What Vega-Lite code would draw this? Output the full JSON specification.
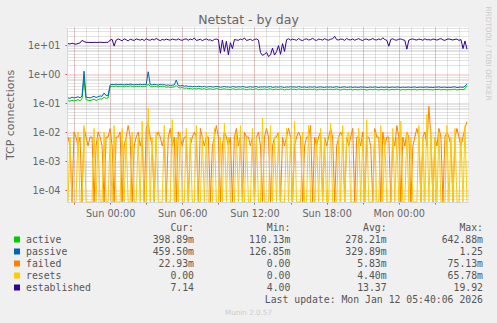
{
"$schema": "https://vega.github.io/schema/vega-lite/v6.json",
"width": 401,
"height": 175,
"autosize": {"type": "none"},
"padding": {"left": 67, "top": 27, "right": 29, "bottom": 121},
"background": "#F0F0F0",
"title": {"text": "Netstat - by day", "font": "DejaVu Sans", "fontSize": 12.5, "fontWeight": "normal", "color": "#666666", "anchor": "middle", "frame": "group", "baseline": "alphabetic", "offset": -30, "dx": -19},
"datasets": {
"ts": [
{"t":"2026-01-10T20:30Z","a":0.12,"p":0.15,"f":0.0067,"r":0,"e":11.2},
{"t":"2026-01-10T20:40Z","a":0.115,"p":0.145,"f":0.0033,"r":0.0067,"e":10.8},
{"t":"2026-01-10T20:50Z","a":0.125,"p":0.16,"f":0,"r":0,"e":11.5},
{"t":"2026-01-10T21:00Z","a":0.118,"p":0.15,"f":0.01,"r":0,"e":11.0},
{"t":"2026-01-10T21:10Z","a":0.122,"p":0.155,"f":0.0067,"r":0,"e":10.6},
{"t":"2026-01-10T21:20Z","a":0.13,"p":0.165,"f":0.0033,"r":0.01,"e":11.3},
{"t":"2026-01-10T21:30Z","a":0.12,"p":0.15,"f":0.0067,"r":0,"e":11.8},
{"t":"2026-01-10T21:40Z","a":0.14,"p":0.175,"f":0,"r":0,"e":14.5},
{"t":"2026-01-10T21:50Z","a":0.643,"p":1.25,"f":0.0133,"r":0.0167,"e":13.2},
{"t":"2026-01-10T22:00Z","a":0.13,"p":0.16,"f":0.0067,"r":0,"e":12.4},
{"t":"2026-01-10T22:10Z","a":0.125,"p":0.155,"f":0.0033,"r":0,"e":12.3},
{"t":"2026-01-10T22:20Z","a":0.12,"p":0.15,"f":0.0067,"r":0,"e":12.3},
{"t":"2026-01-10T22:30Z","a":0.128,"p":0.16,"f":0.0067,"r":0,"e":12.2},
{"t":"2026-01-10T22:40Z","a":0.135,"p":0.17,"f":0,"r":0.0133,"e":12.4},
{"t":"2026-01-10T22:50Z","a":0.122,"p":0.155,"f":0.0033,"r":0,"e":12.3},
{"t":"2026-01-10T23:00Z","a":0.13,"p":0.165,"f":0.01,"r":0.0067,"e":12.3},
{"t":"2026-01-10T23:10Z","a":0.14,"p":0.175,"f":0.0067,"r":0,"e":12.5},
{"t":"2026-01-10T23:20Z","a":0.135,"p":0.17,"f":0.0033,"r":0,"e":12.3},
{"t":"2026-01-10T23:30Z","a":0.16,"p":0.22,"f":0,"r":0.01,"e":12.2},
{"t":"2026-01-10T23:40Z","a":0.145,"p":0.18,"f":0.0067,"r":0,"e":12.4},
{"t":"2026-01-10T23:50Z","a":0.15,"p":0.185,"f":0.0067,"r":0,"e":12.3},
{"t":"2026-01-11T00:00Z","a":0.36,"p":0.42,"f":0.0133,"r":0.0067,"e":14.8},
{"t":"2026-01-11T00:10Z","a":0.38,"p":0.44,"f":0.0033,"r":0,"e":15.6},
{"t":"2026-01-11T00:20Z","a":0.37,"p":0.43,"f":0,"r":0.0167,"e":9.2},
{"t":"2026-01-11T00:30Z","a":0.39,"p":0.45,"f":0.0067,"r":0,"e":14.8},
{"t":"2026-01-11T00:40Z","a":0.365,"p":0.425,"f":0.0067,"r":0,"e":16.2},
{"t":"2026-01-11T00:50Z","a":0.38,"p":0.44,"f":0.01,"r":0,"e":15.1},
{"t":"2026-01-11T01:00Z","a":0.375,"p":0.435,"f":0,"r":0.0133,"e":14.0},
{"t":"2026-01-11T01:10Z","a":0.36,"p":0.42,"f":0.0033,"r":0,"e":16.4},
{"t":"2026-01-11T01:20Z","a":0.385,"p":0.445,"f":0.0067,"r":0.0067,"e":15.2},
{"t":"2026-01-11T01:30Z","a":0.37,"p":0.43,"f":0.0167,"r":0,"e":13.8},
{"t":"2026-01-11T01:40Z","a":0.39,"p":0.45,"f":0.0067,"r":0,"e":15.9},
{"t":"2026-01-11T01:50Z","a":0.375,"p":0.435,"f":0,"r":0.01,"e":15.0},
{"t":"2026-01-11T02:00Z","a":0.36,"p":0.42,"f":0.0033,"r":0,"e":14.4},
{"t":"2026-01-11T02:10Z","a":0.38,"p":0.44,"f":0.0067,"r":0,"e":16.2},
{"t":"2026-01-11T02:20Z","a":0.37,"p":0.43,"f":0.01,"r":0.0067,"e":15.5},
{"t":"2026-01-11T02:30Z","a":0.385,"p":0.445,"f":0.0033,"r":0,"e":14.7},
{"t":"2026-01-11T02:40Z","a":0.365,"p":0.425,"f":0.0067,"r":0.0233,"e":15.8},
{"t":"2026-01-11T02:50Z","a":0.38,"p":0.44,"f":0,"r":0,"e":14.3},
{"t":"2026-01-11T03:00Z","a":0.37,"p":0.43,"f":0.0133,"r":0,"e":16.5},
{"t":"2026-01-11T03:10Z","a":0.45,"p":1.2,"f":0.02,"r":0.0658,"e":15.1},
{"t":"2026-01-11T03:20Z","a":0.375,"p":0.435,"f":0.0067,"r":0,"e":14.6},
{"t":"2026-01-11T03:30Z","a":0.36,"p":0.42,"f":0.0033,"r":0.0067,"e":15.9},
{"t":"2026-01-11T03:40Z","a":0.38,"p":0.44,"f":0,"r":0,"e":14.9},
{"t":"2026-01-11T03:50Z","a":0.37,"p":0.43,"f":0.0067,"r":0.01,"e":16.8},
{"t":"2026-01-11T04:00Z","a":0.355,"p":0.415,"f":0.01,"r":0,"e":15.3},
{"t":"2026-01-11T04:10Z","a":0.38,"p":0.44,"f":0.0067,"r":0,"e":14.2},
{"t":"2026-01-11T04:20Z","a":0.365,"p":0.425,"f":0.0033,"r":0,"e":15.6},
{"t":"2026-01-11T04:30Z","a":0.37,"p":0.43,"f":0.0067,"r":0.0167,"e":14.8},
{"t":"2026-01-11T04:40Z","a":0.35,"p":0.41,"f":0,"r":0,"e":16.0},
{"t":"2026-01-11T04:50Z","a":0.36,"p":0.42,"f":0.0067,"r":0,"e":15.2},
{"t":"2026-01-11T05:00Z","a":0.345,"p":0.405,"f":0.0133,"r":0,"e":14.7},
{"t":"2026-01-11T05:10Z","a":0.35,"p":0.41,"f":0.0033,"r":0.0267,"e":16.1},
{"t":"2026-01-11T05:20Z","a":0.36,"p":0.42,"f":0.0067,"r":0,"e":15.4},
{"t":"2026-01-11T05:30Z","a":0.4,"p":0.62,"f":0,"r":0.0067,"e":14.9},
{"t":"2026-01-11T05:40Z","a":0.34,"p":0.4,"f":0.01,"r":0,"e":16.3},
{"t":"2026-01-11T05:50Z","a":0.33,"p":0.39,"f":0.0067,"r":0.01,"e":15.0},
{"t":"2026-01-11T06:00Z","a":0.345,"p":0.405,"f":0.0033,"r":0,"e":14.5},
{"t":"2026-01-11T06:10Z","a":0.32,"p":0.38,"f":0.0067,"r":0,"e":15.8},
{"t":"2026-01-11T06:20Z","a":0.33,"p":0.39,"f":0.0067,"r":0.0133,"e":16.2},
{"t":"2026-01-11T06:30Z","a":0.31,"p":0.37,"f":0,"r":0,"e":14.6},
{"t":"2026-01-11T06:40Z","a":0.32,"p":0.38,"f":0.0033,"r":0.0067,"e":16.0},
{"t":"2026-01-11T06:50Z","a":0.3,"p":0.36,"f":0.0067,"r":0,"e":15.2},
{"t":"2026-01-11T07:00Z","a":0.315,"p":0.375,"f":0.01,"r":0,"e":17.5},
{"t":"2026-01-11T07:10Z","a":0.305,"p":0.365,"f":0.0067,"r":0.0167,"e":14.4},
{"t":"2026-01-11T07:20Z","a":0.32,"p":0.38,"f":0,"r":0,"e":15.0},
{"t":"2026-01-11T07:30Z","a":0.31,"p":0.37,"f":0.0133,"r":0,"e":15.8},
{"t":"2026-01-11T07:40Z","a":0.3,"p":0.36,"f":0.0067,"r":0.0067,"e":14.2},
{"t":"2026-01-11T07:50Z","a":0.315,"p":0.375,"f":0.0033,"r":0,"e":15.5},
{"t":"2026-01-11T08:00Z","a":0.29,"p":0.35,"f":0.0067,"r":0.01,"e":16.2},
{"t":"2026-01-11T08:10Z","a":0.305,"p":0.365,"f":0.0067,"r":0,"e":14.8},
{"t":"2026-01-11T08:20Z","a":0.31,"p":0.37,"f":0,"r":0,"e":15.1},
{"t":"2026-01-11T08:30Z","a":0.295,"p":0.355,"f":0.0033,"r":0,"e":14.0},
{"t":"2026-01-11T08:40Z","a":0.3,"p":0.36,"f":0.0067,"r":0.0133,"e":15.6},
{"t":"2026-01-11T08:50Z","a":0.315,"p":0.375,"f":0.0167,"r":0,"e":16.0},
{"t":"2026-01-11T09:00Z","a":0.305,"p":0.365,"f":0.0067,"r":0,"e":15.2},
{"t":"2026-01-11T09:10Z","a":0.29,"p":0.35,"f":0,"r":0.0067,"e":5.2},
{"t":"2026-01-11T09:20Z","a":0.3,"p":0.36,"f":0.0033,"r":0,"e":14.8},
{"t":"2026-01-11T09:30Z","a":0.31,"p":0.37,"f":0.01,"r":0.02,"e":6.0},
{"t":"2026-01-11T09:40Z","a":0.295,"p":0.355,"f":0.0067,"r":0,"e":13.5},
{"t":"2026-01-11T09:50Z","a":0.3,"p":0.36,"f":0.0033,"r":0.0067,"e":4.6},
{"t":"2026-01-11T10:00Z","a":0.285,"p":0.345,"f":0.0067,"r":0,"e":12.0},
{"t":"2026-01-11T10:10Z","a":0.31,"p":0.37,"f":0,"r":0,"e":7.5},
{"t":"2026-01-11T10:20Z","a":0.3,"p":0.36,"f":0.0067,"r":0,"e":15.5},
{"t":"2026-01-11T10:30Z","a":0.29,"p":0.35,"f":0.0133,"r":0.01,"e":14.9},
{"t":"2026-01-11T10:40Z","a":0.305,"p":0.365,"f":0.0033,"r":0,"e":14.6},
{"t":"2026-01-11T10:50Z","a":0.295,"p":0.355,"f":0.0067,"r":0.0167,"e":16.0},
{"t":"2026-01-11T11:00Z","a":0.31,"p":0.37,"f":0,"r":0,"e":15.2},
{"t":"2026-01-11T11:10Z","a":0.3,"p":0.36,"f":0.01,"r":0,"e":17.5},
{"t":"2026-01-11T11:20Z","a":0.285,"p":0.345,"f":0.0067,"r":0.0067,"e":14.4},
{"t":"2026-01-11T11:30Z","a":0.295,"p":0.355,"f":0.0067,"r":0,"e":15.0},
{"t":"2026-01-11T11:40Z","a":0.305,"p":0.365,"f":0.0033,"r":0,"e":15.8},
{"t":"2026-01-11T11:50Z","a":0.29,"p":0.35,"f":0.0067,"r":0.0133,"e":14.2},
{"t":"2026-01-11T12:00Z","a":0.3,"p":0.36,"f":0,"r":0,"e":15.5},
{"t":"2026-01-11T12:10Z","a":0.31,"p":0.37,"f":0.0067,"r":0.0067,"e":16.2},
{"t":"2026-01-11T12:20Z","a":0.285,"p":0.345,"f":0.01,"r":0,"e":14.8},
{"t":"2026-01-11T12:30Z","a":0.3,"p":0.36,"f":0.0033,"r":0,"e":5.5},
{"t":"2026-01-11T12:40Z","a":0.295,"p":0.355,"f":0,"r":0.03,"e":4.4},
{"t":"2026-01-11T12:50Z","a":0.305,"p":0.365,"f":0.0067,"r":0,"e":4.8},
{"t":"2026-01-11T13:00Z","a":0.29,"p":0.35,"f":0.0133,"r":0,"e":5.6},
{"t":"2026-01-11T13:10Z","a":0.3,"p":0.36,"f":0.0067,"r":0,"e":4.0},
{"t":"2026-01-11T13:20Z","a":0.31,"p":0.37,"f":0,"r":0.0167,"e":4.6},
{"t":"2026-01-11T13:30Z","a":0.285,"p":0.345,"f":0.0033,"r":0,"e":7.8},
{"t":"2026-01-11T13:40Z","a":0.295,"p":0.355,"f":0.0067,"r":0.0067,"e":4.5},
{"t":"2026-01-11T13:50Z","a":0.3,"p":0.36,"f":0.0067,"r":0,"e":5.9},
{"t":"2026-01-11T14:00Z","a":0.29,"p":0.35,"f":0.01,"r":0.01,"e":9.5},
{"t":"2026-01-11T14:10Z","a":0.305,"p":0.365,"f":0,"r":0,"e":4.8},
{"t":"2026-01-11T14:20Z","a":0.295,"p":0.355,"f":0.0067,"r":0,"e":11.2},
{"t":"2026-01-11T14:30Z","a":0.28,"p":0.34,"f":0.0033,"r":0,"e":6.0},
{"t":"2026-01-11T14:40Z","a":0.3,"p":0.36,"f":0.0067,"r":0.0133,"e":15.2},
{"t":"2026-01-11T14:50Z","a":0.29,"p":0.35,"f":0.0133,"r":0,"e":16.4},
{"t":"2026-01-11T15:00Z","a":0.305,"p":0.365,"f":0.0067,"r":0.0067,"e":14.8},
{"t":"2026-01-11T15:10Z","a":0.295,"p":0.355,"f":0,"r":0,"e":15.9},
{"t":"2026-01-11T15:20Z","a":0.3,"p":0.36,"f":0.0033,"r":0.0233,"e":15.3},
{"t":"2026-01-11T15:30Z","a":0.285,"p":0.345,"f":0.0067,"r":0,"e":14.6},
{"t":"2026-01-11T15:40Z","a":0.31,"p":0.37,"f":0.01,"r":0,"e":16.7},
{"t":"2026-01-11T15:50Z","a":0.295,"p":0.355,"f":0.0067,"r":0,"e":15.0},
{"t":"2026-01-11T16:00Z","a":0.29,"p":0.35,"f":0,"r":0.01,"e":14.2},
{"t":"2026-01-11T16:10Z","a":0.3,"p":0.36,"f":0.0033,"r":0,"e":15.8},
{"t":"2026-01-11T16:20Z","a":0.285,"p":0.345,"f":0.0067,"r":0,"e":16.3},
{"t":"2026-01-11T16:30Z","a":0.295,"p":0.355,"f":0.0067,"r":0.0167,"e":14.9},
{"t":"2026-01-11T16:40Z","a":0.3,"p":0.36,"f":0.0167,"r":0,"e":15.4},
{"t":"2026-01-11T16:50Z","a":0.29,"p":0.35,"f":0,"r":0,"e":17.0},
{"t":"2026-01-11T17:00Z","a":0.305,"p":0.365,"f":0.0067,"r":0,"e":15.1},
{"t":"2026-01-11T17:10Z","a":0.28,"p":0.34,"f":0.0033,"r":0.0067,"e":14.4},
{"t":"2026-01-11T17:20Z","a":0.295,"p":0.355,"f":0.0067,"r":0,"e":16.0},
{"t":"2026-01-11T17:30Z","a":0.3,"p":0.36,"f":0.01,"r":0.0133,"e":15.5},
{"t":"2026-01-11T17:40Z","a":0.29,"p":0.35,"f":0,"r":0,"e":14.8},
{"t":"2026-01-11T17:50Z","a":0.285,"p":0.345,"f":0.0067,"r":0.0067,"e":16.6},
{"t":"2026-01-11T18:00Z","a":0.3,"p":0.36,"f":0.0033,"r":0,"e":15.2},
{"t":"2026-01-11T18:10Z","a":0.29,"p":0.35,"f":0.0067,"r":0,"e":14.7},
{"t":"2026-01-11T18:20Z","a":0.3,"p":0.36,"f":0.0133,"r":0.02,"e":15.9},
{"t":"2026-01-11T18:30Z","a":0.285,"p":0.345,"f":0.0067,"r":0,"e":16.4},
{"t":"2026-01-11T18:40Z","a":0.295,"p":0.355,"f":0,"r":0,"e":19.9},
{"t":"2026-01-11T18:50Z","a":0.305,"p":0.365,"f":0.0033,"r":0,"e":15.3},
{"t":"2026-01-11T19:00Z","a":0.29,"p":0.35,"f":0.0067,"r":0.0067,"e":14.9},
{"t":"2026-01-11T19:10Z","a":0.28,"p":0.34,"f":0.01,"r":0,"e":16.1},
{"t":"2026-01-11T19:20Z","a":0.295,"p":0.355,"f":0.0067,"r":0.0167,"e":15.6},
{"t":"2026-01-11T19:30Z","a":0.3,"p":0.36,"f":0,"r":0,"e":14.5},
{"t":"2026-01-11T19:40Z","a":0.285,"p":0.345,"f":0.0067,"r":0.0067,"e":16.8},
{"t":"2026-01-11T19:50Z","a":0.29,"p":0.35,"f":0.0033,"r":0.01,"e":15.2},
{"t":"2026-01-11T20:00Z","a":0.3,"p":0.36,"f":0.0067,"r":0,"e":15.0},
{"t":"2026-01-11T20:10Z","a":0.28,"p":0.34,"f":0.0133,"r":0,"e":16.2},
{"t":"2026-01-11T20:20Z","a":0.295,"p":0.355,"f":0,"r":0,"e":14.6},
{"t":"2026-01-11T20:30Z","a":0.29,"p":0.35,"f":0.0067,"r":0,"e":15.7},
{"t":"2026-01-11T20:40Z","a":0.285,"p":0.345,"f":0.0067,"r":0.0133,"e":16.5},
{"t":"2026-01-11T20:50Z","a":0.3,"p":0.36,"f":0.0033,"r":0,"e":15.1},
{"t":"2026-01-11T21:00Z","a":0.29,"p":0.35,"f":0.01,"r":0.0067,"e":14.3},
{"t":"2026-01-11T21:10Z","a":0.295,"p":0.355,"f":0,"r":0,"e":15.9},
{"t":"2026-01-11T21:20Z","a":0.28,"p":0.34,"f":0.0067,"r":0.0267,"e":16.0},
{"t":"2026-01-11T21:30Z","a":0.29,"p":0.35,"f":0.0067,"r":0,"e":14.8},
{"t":"2026-01-11T21:40Z","a":0.295,"p":0.355,"f":0.0033,"r":0,"e":15.5},
{"t":"2026-01-11T21:50Z","a":0.285,"p":0.345,"f":0,"r":0,"e":16.7},
{"t":"2026-01-11T22:00Z","a":0.3,"p":0.36,"f":0.0133,"r":0.01,"e":15.2},
{"t":"2026-01-11T22:10Z","a":0.29,"p":0.35,"f":0.0067,"r":0,"e":14.9},
{"t":"2026-01-11T22:20Z","a":0.28,"p":0.34,"f":0.0067,"r":0,"e":16.3},
{"t":"2026-01-11T22:30Z","a":0.295,"p":0.355,"f":0,"r":0.0167,"e":15.0},
{"t":"2026-01-11T22:40Z","a":0.29,"p":0.35,"f":0.01,"r":0,"e":17.8},
{"t":"2026-01-11T22:50Z","a":0.285,"p":0.345,"f":0.0033,"r":0.0067,"e":15.4},
{"t":"2026-01-11T23:00Z","a":0.3,"p":0.36,"f":0.0067,"r":0,"e":14.6},
{"t":"2026-01-11T23:10Z","a":0.28,"p":0.34,"f":0.0067,"r":0,"e":9.1},
{"t":"2026-01-11T23:20Z","a":0.29,"p":0.35,"f":0,"r":0,"e":15.6},
{"t":"2026-01-11T23:30Z","a":0.295,"p":0.355,"f":0.0067,"r":0.0133,"e":16.4},
{"t":"2026-01-11T23:40Z","a":0.285,"p":0.345,"f":0.0033,"r":0,"e":15.0},
{"t":"2026-01-11T23:50Z","a":0.3,"p":0.36,"f":0.0167,"r":0.0067,"e":14.7},
{"t":"2026-01-12T00:00Z","a":0.29,"p":0.35,"f":0.0067,"r":0,"e":15.9},
{"t":"2026-01-12T00:10Z","a":0.28,"p":0.34,"f":0,"r":0.0233,"e":16.2},
{"t":"2026-01-12T00:20Z","a":0.295,"p":0.355,"f":0.0067,"r":0,"e":15.1},
{"t":"2026-01-12T00:30Z","a":0.285,"p":0.345,"f":0.0033,"r":0,"e":14.6},
{"t":"2026-01-12T00:40Z","a":0.29,"p":0.35,"f":0.01,"r":0.01,"e":7.2},
{"t":"2026-01-12T00:50Z","a":0.295,"p":0.355,"f":0.0067,"r":0,"e":14.8},
{"t":"2026-01-12T01:00Z","a":0.285,"p":0.345,"f":0,"r":0.0067,"e":15.7},
{"t":"2026-01-12T01:10Z","a":0.29,"p":0.35,"f":0.0033,"r":0,"e":16.3},
{"t":"2026-01-12T01:20Z","a":0.3,"p":0.36,"f":0.0067,"r":0,"e":15.2},
{"t":"2026-01-12T01:30Z","a":0.28,"p":0.34,"f":0.0133,"r":0,"e":14.9},
{"t":"2026-01-12T01:40Z","a":0.29,"p":0.35,"f":0.0067,"r":0.0167,"e":16.0},
{"t":"2026-01-12T01:50Z","a":0.295,"p":0.355,"f":0,"r":0,"e":15.5},
{"t":"2026-01-12T02:00Z","a":0.285,"p":0.345,"f":0.0067,"r":0.0067,"e":14.6},
{"t":"2026-01-12T02:10Z","a":0.29,"p":0.35,"f":0.01,"r":0,"e":16.4},
{"t":"2026-01-12T02:20Z","a":0.3,"p":0.36,"f":0.0033,"r":0.04,"e":15.1},
{"t":"2026-01-12T02:30Z","a":0.285,"p":0.345,"f":0.0751,"r":0,"e":15.3},
{"t":"2026-01-12T02:40Z","a":0.29,"p":0.35,"f":0.0067,"r":0.0133,"e":14.8},
{"t":"2026-01-12T02:50Z","a":0.28,"p":0.34,"f":0,"r":0,"e":16.1},
{"t":"2026-01-12T03:00Z","a":0.295,"p":0.355,"f":0.0067,"r":0.0067,"e":15.6},
{"t":"2026-01-12T03:10Z","a":0.29,"p":0.35,"f":0.0033,"r":0,"e":14.7},
{"t":"2026-01-12T03:20Z","a":0.3,"p":0.36,"f":0.0133,"r":0.01,"e":15.9},
{"t":"2026-01-12T03:30Z","a":0.285,"p":0.345,"f":0.0067,"r":0,"e":16.6},
{"t":"2026-01-12T03:40Z","a":0.29,"p":0.35,"f":0,"r":0,"e":15.0},
{"t":"2026-01-12T03:50Z","a":0.295,"p":0.355,"f":0.0067,"r":0,"e":14.5},
{"t":"2026-01-12T04:00Z","a":0.28,"p":0.34,"f":0.01,"r":0.0167,"e":15.8},
{"t":"2026-01-12T04:10Z","a":0.29,"p":0.35,"f":0.0067,"r":0,"e":16.2},
{"t":"2026-01-12T04:20Z","a":0.285,"p":0.345,"f":0.0033,"r":0.0067,"e":15.4},
{"t":"2026-01-12T04:30Z","a":0.295,"p":0.355,"f":0,"r":0,"e":14.9},
{"t":"2026-01-12T04:40Z","a":0.3,"p":0.36,"f":0.0067,"r":0.0133,"e":15.7},
{"t":"2026-01-12T04:50Z","a":0.28,"p":0.34,"f":0.0133,"r":0,"e":16.0},
{"t":"2026-01-12T05:00Z","a":0.29,"p":0.35,"f":0.0067,"r":0,"e":14.4},
{"t":"2026-01-12T05:10Z","a":0.295,"p":0.355,"f":0.0033,"r":0.0067,"e":15.5},
{"t":"2026-01-12T05:20Z","a":0.285,"p":0.345,"f":0.0067,"r":0,"e":7.5},
{"t":"2026-01-12T05:30Z","a":0.31,"p":0.38,"f":0.0133,"r":0.0167,"e":13.8},
{"t":"2026-01-12T05:40Z","a":0.399,"p":0.4595,"f":0.0229,"r":0,"e":7.14}
],
"leg": [
{"s":"a","row":"active"},
{"s":"p","row":"passive"},
{"s":"f","row":"failed"},
{"s":"r","row":"resets"},
{"s":"e","row":"established"}
],
"tbl": [
{"row":"hdr","col":"Cur","txt":"Cur:\u00a0\u00a0"},
{"row":"hdr","col":"Min","txt":"Min:\u00a0\u00a0"},
{"row":"hdr","col":"Avg","txt":"Avg:\u00a0\u00a0"},
{"row":"hdr","col":"Max","txt":"Max:\u00a0\u00a0"},
{"row":"active","col":"Cur","txt":"398.89m"},
{"row":"active","col":"Min","txt":"110.13m"},
{"row":"active","col":"Avg","txt":"278.21m"},
{"row":"active","col":"Max","txt":"642.88m"},
{"row":"passive","col":"Cur","txt":"459.50m"},
{"row":"passive","col":"Min","txt":"126.85m"},
{"row":"passive","col":"Avg","txt":"329.89m"},
{"row":"passive","col":"Max","txt":"1.25\u00a0"},
{"row":"failed","col":"Cur","txt":"22.93m"},
{"row":"failed","col":"Min","txt":"0.00\u00a0"},
{"row":"failed","col":"Avg","txt":"5.83m"},
{"row":"failed","col":"Max","txt":"75.13m"},
{"row":"resets","col":"Cur","txt":"0.00\u00a0"},
{"row":"resets","col":"Min","txt":"0.00\u00a0"},
{"row":"resets","col":"Avg","txt":"4.40m"},
{"row":"resets","col":"Max","txt":"65.78m"},
{"row":"established","col":"Cur","txt":"7.14\u00a0"},
{"row":"established","col":"Min","txt":"4.00\u00a0"},
{"row":"established","col":"Avg","txt":"13.37\u00a0"},
{"row":"established","col":"Max","txt":"19.92\u00a0"},
{"row":"upd","col":"Max","txt":"Last update: Mon Jan 12 05:40:06 2026"}
]
},
"layer": [
{
"data": {"name": "ts"},
"transform": [{"fold": ["f", "r"], "as": ["s", "v"]}],
"mark": {"type": "line", "strokeWidth": 1},
"encoding": {
"x": {"field": "t", "type": "temporal",
"scale": {"type": "utc", "domain": [1768076700000, 1768196700000]},
"axis": {"orient": "bottom", "values": [1768078800000,1768082400000,1768086000000,1768089600000,1768093200000,1768096800000,1768100400000,1768104000000,1768107600000,1768111200000,1768114800000,1768118400000,1768122000000,1768125600000,1768129200000,1768132800000,1768136400000,1768140000000,1768143600000,1768147200000,1768150800000,1768154400000,1768158000000,1768161600000,1768165200000,1768168800000,1768172400000,1768176000000,1768179600000,1768183200000,1768186800000,1768190400000,1768194000000], "labels": false, "ticks": false, "domain": false, "title": null, "grid": true, "gridColor": "#8F8F8F", "gridOpacity": 0.5, "gridDash": [1, 1]}},
"y": {"field": "v", "type": "quantitative",
"scale": {"type": "log", "domain": [0.0000386, 41.8], "clamp": true},
"axis": {"orient": "left", "values": [4e-5,5e-5,6e-5,7e-5,8e-5,9e-5,2e-4,3e-4,4e-4,5e-4,6e-4,7e-4,8e-4,9e-4,0.002,0.003,0.004,0.005,0.006,0.007,0.008,0.009,0.02,0.03,0.04,0.05,0.06,0.07,0.08,0.09,0.2,0.3,0.4,0.5,0.6,0.7,0.8,0.9,2,3,4,5,6,7,8,9,20,30,40], "labels": false, "ticks": false, "domain": false, "title": null, "grid": true, "gridColor": "#8F8F8F", "gridOpacity": 0.5, "gridDash": [1, 1]}},
"color": {"field": "s", "type": "nominal",
"scale": {"domain": ["a", "p", "f", "r", "e"], "range": ["#00CC00", "#0066B3", "#FF8000", "#FFCC00", "#330099"]},
"legend": null}
}
},
{
"data": {"name": "ts"},
"transform": [{"fold": ["a", "p", "e"], "as": ["s", "v"]}],
"mark": {"type": "line", "strokeWidth": 1},
"encoding": {
"x": {"field": "t", "type": "temporal",
"scale": {"type": "utc", "domain": [1768076700000, 1768196700000]},
"axis": {"orient": "bottom", "values": [1768078800000,1768089600000,1768100400000,1768111200000,1768122000000,1768132800000,1768143600000,1768154400000,1768165200000,1768176000000,1768186800000], "labelExpr": "utchours(datum.value) % 6 == 0 ? utcFormat(datum.value, '%a %H:%M') : ''", "labelOverlap": false, "labelFlush": false, "labelFont": "DejaVu Sans", "labelFontSize": 9.7, "labelColor": "#666666", "labelPadding": 4, "ticks": true, "tickSize": 2, "tickColor": "#DE4F4F", "domain": true, "domainColor": "#CFD6F8", "grid": true, "gridColor": "#DE4F4F", "gridOpacity": 0.4, "gridDash": [1, 1],
"title": "Munin 2.0.57", "titleX": 181, "titleY": 110, "titleAlign": "center", "titleBaseline": "middle", "titleFont": "DejaVu Sans", "titleFontSize": 7.2, "titleFontWeight": "normal", "titleColor": "#CCCCCC"}},
"y": {"field": "v", "type": "quantitative",
"scale": {"type": "log", "domain": [0.0000386, 41.8], "clamp": true},
"axis": {"orient": "left", "values": [0.0001, 0.001, 0.01, 0.1, 1, 10], "labelExpr": "'1e' + (datum.value < 1 ? '-' : '+') + '0' + abs(round(log(datum.value) / LN10))", "labelFont": "DejaVu Sans", "labelFontSize": 9.7, "labelColor": "#666666", "labelPadding": 5, "ticks": true, "tickSize": 2, "tickColor": "#DE4F4F", "domain": true, "domainColor": "#CFD6F8", "grid": true, "gridColor": "#DE4F4F", "gridOpacity": 0.4, "gridDash": [1, 1],
"title": "TCP connections", "titleX": -57, "titleY": 87.5, "titleAngle": -90, "titleAlign": "center", "titleBaseline": "middle", "titleFont": "DejaVu Sans", "titleFontSize": 11, "titleFontWeight": "normal", "titleColor": "#666666"}},
"color": {"field": "s", "type": "nominal", "legend": null}
}
},
{
"data": {"name": "leg"},
"mark": {"type": "point", "shape": "square", "filled": true, "size": 36, "opacity": 1, "strokeWidth": 0},
"encoding": {
"x": {"datum": "sq", "type": "nominal", "scale": {"type": "point", "domain": ["sq", "name"], "range": [-50, -41], "padding": 0}, "axis": null},
"y": {"field": "row", "type": "nominal", "scale": {"type": "point", "domain": ["hdr", "active", "passive", "failed", "resets", "established", "upd"], "range": [200.5, 272.5], "padding": 0}, "axis": null},
"color": {"field": "s", "type": "nominal", "legend": null}
}
},
{
"data": {"name": "leg"},
"mark": {"type": "text", "align": "left", "baseline": "middle", "font": "DejaVu Sans Mono", "fontSize": 9.8, "color": "#555555"},
"encoding": {
"x": {"datum": "name", "type": "nominal", "scale": {"type": "point", "domain": ["sq", "name"], "range": [-50, -41], "padding": 0}, "axis": null},
"y": {"field": "row", "type": "nominal", "scale": {"type": "point", "domain": ["hdr", "active", "passive", "failed", "resets", "established", "upd"], "range": [200.5, 272.5], "padding": 0}, "axis": null},
"text": {"field": "row"}
}
},
{
"data": {"name": "tbl"},
"mark": {"type": "text", "align": "right", "baseline": "middle", "font": "DejaVu Sans Mono", "fontSize": 9.8, "color": "#555555"},
"encoding": {
"x": {"field": "col", "type": "nominal", "scale": {"type": "point", "domain": ["Cur", "Min", "Avg", "Max"], "range": [127, 416], "padding": 0}, "axis": null},
"y": {"field": "row", "type": "nominal", "scale": {"type": "point", "domain": ["hdr", "active", "passive", "failed", "resets", "established", "upd"], "range": [200.5, 272.5], "padding": 0},
"axis": {"orient": "right", "domain": false, "ticks": false, "labels": false, "grid": false, "title": "RRDTOOL / TOBI OETIKER", "titleX": 19, "titleY": 26, "titleAngle": 90, "titleAlign": "center", "titleBaseline": "middle", "titleFont": "DejaVu Sans", "titleFontSize": 7.3, "titleFontWeight": "normal", "titleColor": "#CCCCCC"}},
"text": {"field": "txt"}
}
}
],
"resolve": {"scale": {"x": "independent", "y": "independent"}},
"config": {
"view": {"fill": "#FFFFFF", "stroke": null}
}
}
